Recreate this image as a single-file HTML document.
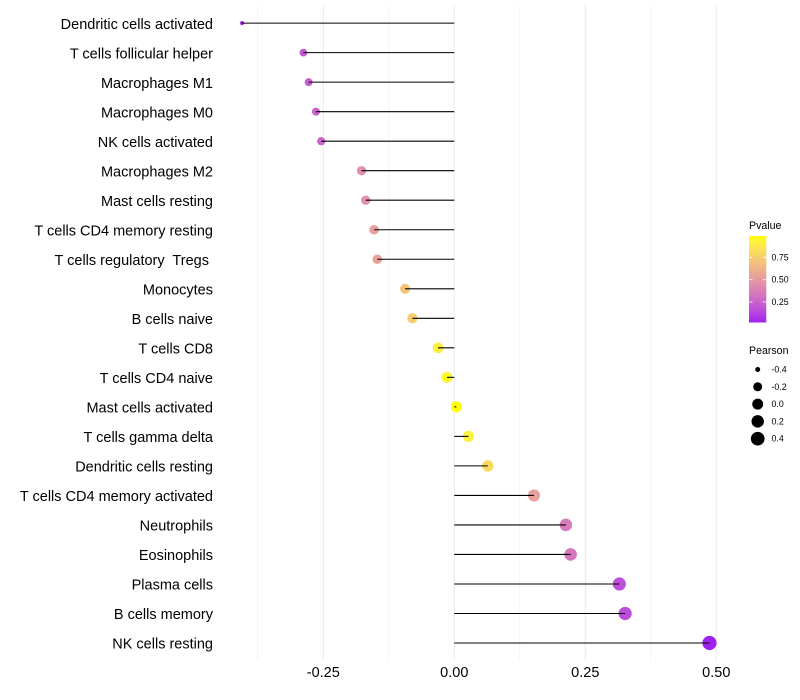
<!DOCTYPE html>
<html>
<head>
<meta charset="utf-8">
<title>Pearson lollipop chart</title>
<style>
html,body{margin:0;padding:0;background:#fff;width:800px;height:700px;overflow:hidden}
svg{display:block}
text{font-family:"Liberation Sans",sans-serif;fill:#000;white-space:pre}
</style>
</head>
<body>
<svg id="chart" width="800" height="700" viewBox="0 0 800 700" xmlns="http://www.w3.org/2000/svg">
  <defs>
    <linearGradient id="pvalue-gradient" x1="0" y1="1" x2="0" y2="0"></linearGradient>
  </defs>
  <rect width="800" height="700" fill="#fff"/>
  <g id="grid"></g>
  <g id="points"></g>
  <g id="stems"></g>
  <g id="ylabels"></g>
  <g id="xlabels"></g>
  <g id="legend-p">
    <text x="749" y="229" font-size="10.6">Pvalue</text>
  </g>
  <g id="legend-s">
    <text x="749" y="354" font-size="10.6">Pearson</text>
  </g>
</svg>
<script>
const categories = ["Dendritic cells activated","T cells follicular helper","Macrophages M1","Macrophages M0","NK cells activated","Macrophages M2","Mast cells resting","T cells CD4 memory resting","T cells regulatory  Tregs ","Monocytes","B cells naive","T cells CD8","T cells CD4 naive","Mast cells activated","T cells gamma delta","Dendritic cells resting","T cells CD4 memory activated","Neutrophils","Eosinophils","Plasma cells","B cells memory","NK cells resting"];
const pearson = [-0.405,-0.288,-0.278,-0.264,-0.254,-0.177,-0.169,-0.153,-0.147,-0.094,-0.080,-0.031,-0.014,0.004,0.027,0.064,0.152,0.213,0.222,0.315,0.326,0.487];
const pvalue = [0.03,0.21,0.23,0.255,0.27,0.45,0.47,0.53,0.54,0.71,0.75,0.91,0.96,0.99,0.92,0.81,0.53,0.36,0.34,0.17,0.16,0.02];
const xMajorTicks = [-0.25,0,0.25,0.5];
const xTickLabels = ["-0.25","0.00","0.25","0.50"];
const xMinorTicks = [-0.375,-0.125,0.125,0.375];
const pLegendTicks = [0.25,0.5,0.75];
const pLegendLabels = ["0.25","0.50","0.75"];
const sizeLegendValues = [-0.4,-0.2,0,0.2,0.4];
const sizeLegendLabels = ["-0.4","-0.2","0.0","0.2","0.4"];

const NS = "http://www.w3.org/2000/svg";
function mk(tag, parent, attrs) {
  const el = document.createElementNS(NS, tag);
  for (const k in attrs) el.setAttribute(k, attrs[k]);
  parent.appendChild(el);
  return el;
}
const xScale = v => 454.3 + v * 524;
const yScale = i => 23.1 + i * 29.52;
const panelTop = 5.5, panelBottom = 660;

const pMin = Math.min(...pvalue), pMax = Math.max(...pvalue);
const rMin = Math.min(...pearson), rMax = Math.max(...pearson);

function rLin(c){c/=255;return c<=0.04045?c/12.92:Math.pow((c+0.055)/1.055,2.4);}
function gam(c){c=c<=0.0031308?12.92*c:1.055*Math.pow(c,1/2.4)-0.055;return Math.round(255*Math.min(1,Math.max(0,c)));}
function f(t){return t>0.008856?Math.cbrt(t):7.787*t+16/116;}
function fi(t){return t>0.20689?t*t*t:(t-16/116)/7.787;}
function toLab(rgb){
  const r=rLin(rgb[0]),g=rLin(rgb[1]),b=rLin(rgb[2]);
  const X=(0.4124*r+0.3576*g+0.1805*b)/0.95047,Y=0.2126*r+0.7152*g+0.0722*b,Z=(0.0193*r+0.1192*g+0.9505*b)/1.08883;
  return [116*f(Y)-16,500*(f(X)-f(Y)),200*(f(Y)-f(Z))];
}
function fromLab(l){
  const y=(l[0]+16)/116,x=y+l[1]/500,z=y-l[2]/200;
  const X=fi(x)*0.95047,Y=fi(y),Z=fi(z)*1.08883;
  return "rgb("+gam(3.2406*X-1.5372*Y-0.4986*Z)+","+gam(-0.9689*X+1.8758*Y+0.0415*Z)+","+gam(0.0557*X-0.2040*Y+1.0570*Z)+")";
}
const labLow = toLab([160,32,240]), labHigh = toLab([255,255,0]);
function colorScale(p){
  const t = Math.max(0, Math.min(1, (p - pMin) / (pMax - pMin)));
  return fromLab(labLow.map((v, i) => v + (labHigh[i] - v) * t));
}
function sizeScale(r){
  const t = Math.max(0, (r - rMin) / (rMax - rMin));
  return (1 + 5 * Math.sqrt(t)) + 1.1;
}

const grid = document.getElementById("grid");
xMinorTicks.forEach(v => {
  const l = mk("line", grid, {x1:xScale(v),x2:xScale(v),y1:panelTop,y2:panelBottom,stroke:"#ebebeb","stroke-width":0.55});
  
  
});
xMajorTicks.forEach(v => {
  const l = mk("line", grid, {x1:xScale(v),x2:xScale(v),y1:panelTop,y2:panelBottom,stroke:"#ebebeb","stroke-width":1.07});
  
  
});

const pointsG = document.getElementById("points");
const stemsG = document.getElementById("stems");
const yG = document.getElementById("ylabels");
categories.forEach((c, i) => {
  const dot = mk("circle", pointsG, {cx:xScale(pearson[i]),cy:yScale(i),r:sizeScale(pearson[i]),fill:colorScale(pvalue[i])});
  
  
  const stem = mk("line", stemsG, {x1:xScale(0),x2:xScale(pearson[i]),y1:yScale(i),y2:yScale(i),stroke:"#000","stroke-width":1.07});
  
  
  const lab = mk("text", yG, {x:213,y:yScale(i)+5.7,"text-anchor":"end","font-size":14.5,"xml:space":"preserve"});
  
  
  lab.textContent = c;
});

const xG = document.getElementById("xlabels");
xMajorTicks.forEach((v, i) => {
  const t = mk("text", xG, {x:xScale(v),y:677,"text-anchor":"middle","font-size":14.5});
  
  
  t.textContent = xTickLabels[i];
});

const barTop = 236, barBottom = 322.5;
const pLegendY = p => 302 - (p - 0.25) * 89.2;
const grad = document.getElementById("pvalue-gradient");
for (let k = 0; k <= 20; k++) {
  const s = mk("stop", grad, {offset:(k/20), "stop-color":colorScale(pMin + (pMax - pMin) * k / 20)});
  
  
}
const lp = document.getElementById("legend-p");
const bar = mk("rect", lp, {x:749,y:barTop,width:17.3,height:barBottom-barTop,fill:"url(#pvalue-gradient)"});


pLegendTicks.forEach((p, i) => {
  const a = mk("line", lp, {x1:749,x2:752.5,y1:pLegendY(p),y2:pLegendY(p),stroke:"#fff","stroke-width":0.8});
  
  
  const b = mk("line", lp, {x1:762.8,x2:766.3,y1:pLegendY(p),y2:pLegendY(p),stroke:"#fff","stroke-width":0.8});
  
  
  const t = mk("text", lp, {x:771.5,y:pLegendY(p)+3,"font-size":8.8,fill:"#000"});
  
  
  t.textContent = pLegendLabels[i];
});

const ls = document.getElementById("legend-s");
sizeLegendValues.forEach((v, i) => {
  const cy = 369.5 + i * 17.3;
  const c = mk("circle", ls, {cx:757.7,cy:cy,r:sizeScale(v),fill:"#000"});
  
  
  const t = mk("text", ls, {x:771.5,y:cy+3,"font-size":8.8});
  
  
  t.textContent = sizeLegendLabels[i];
});
</script>
</body>
</html>
